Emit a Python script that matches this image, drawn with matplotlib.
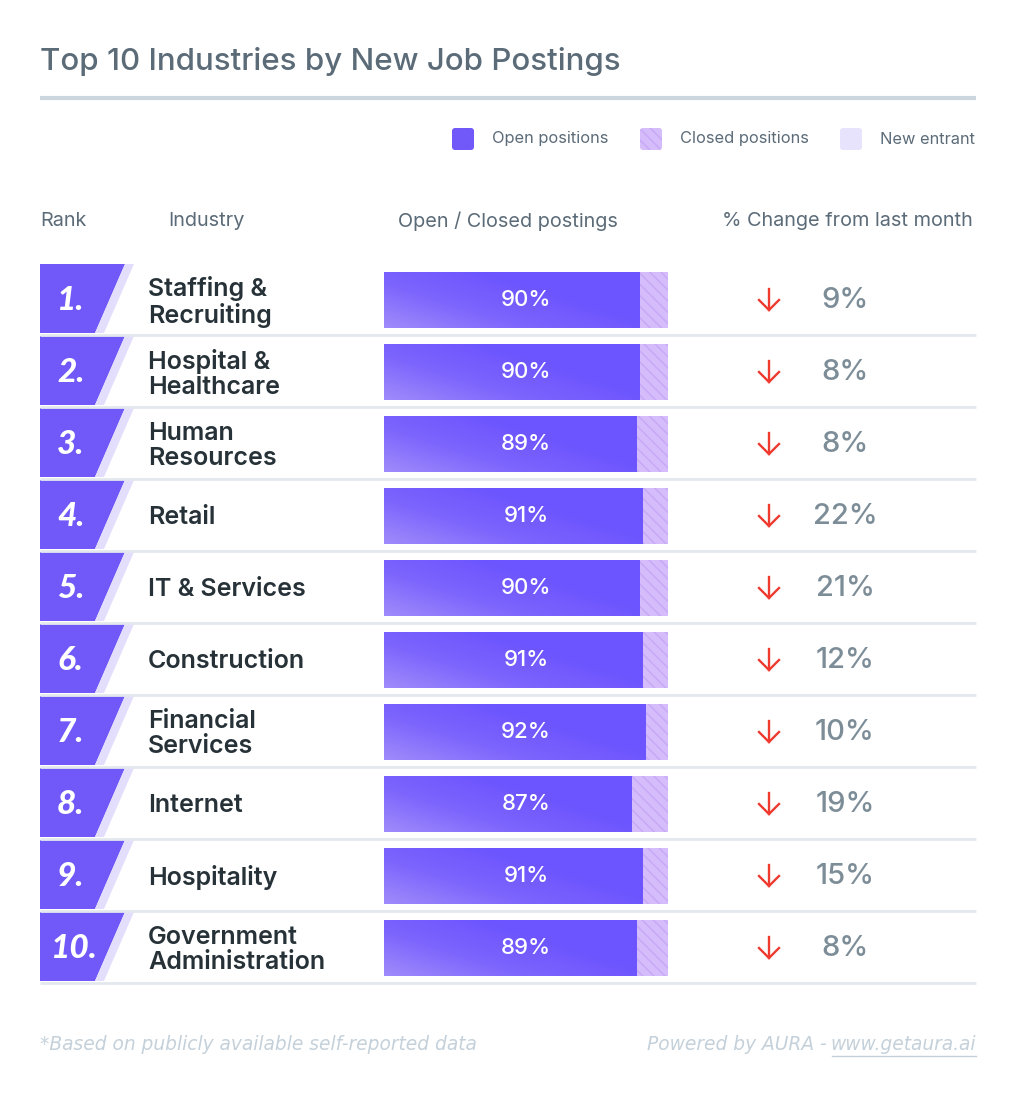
import numpy as np
import matplotlib
matplotlib.use("Agg")
import matplotlib.pyplot as plt
from matplotlib.patches import Polygon, FancyBboxPatch
from matplotlib.colors import LinearSegmentedColormap

# data
ranks = ["1.", "2.", "3.", "4.", "5.", "6.", "7.", "8.", "9.", "10."]
industries = ["Staffing &\nRecruiting", "Hospital &\nHealthcare", "Human\nResources",
              "Retail", "IT & Services", "Construction", "Financial\nServices",
              "Internet", "Hospitality", "Government\nAdministration"]
open_pct = [90, 90, 89, 91, 90, 91, 92, 87, 91, 89]
change_pct = [9, 8, 8, 22, 21, 12, 10, 19, 15, 8]

PURPLE = "#7159f9"
LAVENDER = "#e4defd"
CLOSED = "#d5bcfa"
HATCH = "#c8a9f6"
TITLE_C = "#5b6b78"
NAME_C = "#263238"
CHG_C = "#7d8d98"
ARROW_C = "#ef3a2f"
SEP_C = "#e3e8ee"
FOOT_C = "#c5d1da"

plt.rcParams["font.family"] = ["Inter", "DejaVu Sans"]
plt.rcParams["hatch.linewidth"] = 1.1

W, H = 1016, 1100
fig = plt.figure(figsize=(W / 100, H / 100), dpi=100)
ax = fig.add_axes([0, 0, 1, 1])
ax.set_xlim(0, W)
ax.set_ylim(H, 0)
ax.axis("off")

# title + rule
ax.text(40, 62, "Top 10 Industries by New Job Postings", fontsize=22.5,
        color=TITLE_C, va="center", ha="left", fontweight="medium")
ax.plot([40, 976], [98, 98], color="#cbd6de", lw=3, solid_capstyle="butt")

# legend
leg = [(452, "Open positions", PURPLE, None),
       (640, "Closed positions", CLOSED, "\\\\\\"),
       (840, "New entrant", "#e8e3fd", None)]
for x0, lab, col, hatch in leg:
    sw = FancyBboxPatch((x0, 128), 22, 22, boxstyle="round,pad=0,rounding_size=3",
                        facecolor=col, edgecolor=HATCH if hatch else "none",
                        lw=0, hatch=hatch)
    ax.add_patch(sw)
    ax.text(x0 + 40, 139, lab, fontsize=11.8, color=TITLE_C, va="center", ha="left")

# column headers
hdr_y = 221
hkw = dict(fontsize=14.3, color=TITLE_C, va="center")
ax.text(40, hdr_y, "Rank", ha="left", **hkw)
ax.text(168, hdr_y, "Industry", ha="left", **hkw)
ax.text(508, hdr_y, "Open / Closed postings", ha="center", **hkw)
ax.text(973, hdr_y, "% Change from last month", ha="right", **hkw)

# rows
top0, pitch = 264, 72
for i in range(len(ranks)):
    top = top0 + pitch * i
    bot = top + 69
    mid = top + 35
    ax.add_patch(Polygon([(40, top), (125, top), (95, bot), (40, bot)],
                         closed=True, facecolor=PURPLE, lw=0))
    ax.add_patch(Polygon([(125, top), (134, top), (104, bot), (95, bot)],
                         closed=True, facecolor=LAVENDER, lw=0))
    ax.text(51 if len(ranks[i]) > 2 else 57, mid + 1, ranks[i], fontsize=24,
            color="white", fontweight="black", fontstyle="italic",
            family=["Lato", "DejaVu Sans"], va="center", ha="left")
    ax.text(148, mid + 3, industries[i], fontsize=18, color=NAME_C,
            fontweight="semibold", va="center", ha="left", linespacing=1.12)
    ax.plot([40, 976], [top + 71, top + 71], color=SEP_C, lw=2,
            solid_capstyle="butt")
    # arrow
    ax.plot([769, 769], [mid - 10, mid + 11], color=ARROW_C, lw=1.7)
    ax.plot([759, 769, 779], [mid + 1, mid + 11, mid + 1], color=ARROW_C, lw=1.7,
            solid_joinstyle="miter")
    ax.text(845, mid + 1, f"{change_pct[i]}%", fontsize=21, color=CHG_C,
            va="center", ha="center", fontweight="medium")

# bars
n = len(ranks)
bax = fig.add_axes([384 / W, 1 - (top0 + pitch * n) / H, 284 / W, pitch * n / H])
bax.axis("off")
bax.patch.set_alpha(0)
ypos = np.arange(n) + 0.5
bh = 56 / 72
bax.barh(ypos, [100] * n, height=bh, color=CLOSED, edgecolor=HATCH, lw=0,
         hatch="\\\\\\")
bars = bax.barh(ypos, open_pct, height=bh, color=PURPLE, lw=0)
grad = LinearSegmentedColormap.from_list("g", ["#9e8afb", "#7c64fd", "#6c54ff"])
gx, gy = np.meshgrid(np.linspace(0, 1, 64), np.linspace(0, 1, 16))
for b, y, v in zip(bars, ypos, open_pct):
    # gradient: light bottom-left -> dark top-right
    im = bax.imshow(np.clip(0.9 * gx + 0.6 * gy, 0, 1), cmap=grad,
                    aspect="auto", extent=(0, v, y + bh / 2, y - bh / 2),
                    vmin=0, vmax=1, interpolation="bilinear", origin="lower",
                    zorder=2)
    im.set_clip_path(b)
    bax.text(50, y, f"{v}%", color="white", fontsize=16, va="center",
             ha="center", fontweight="medium", zorder=3)
bax.set_xlim(0, 100)
bax.set_ylim(n, 0)

# footer
fkw = dict(fontsize=13.4, color=FOOT_C, fontstyle="italic",
           family=["DejaVu Sans"], va="center")
ax.text(40, 1045, "*Based on publicly available self-reported data", ha="left", **fkw)
url = ax.text(976, 1045, "www.getaura.ai", ha="right", **fkw)
fig.canvas.draw()
bb = url.get_window_extent().transformed(ax.transData.inverted())
x_left = min(bb.x0, bb.x1)
ax.text(x_left - 4, 1045, "Powered by AURA -", ha="right", **fkw)
ax.plot([x_left + 1, 976], [1056, 1056], color=FOOT_C, lw=1)

fig.savefig("out.png", dpi=100, facecolor="white")
